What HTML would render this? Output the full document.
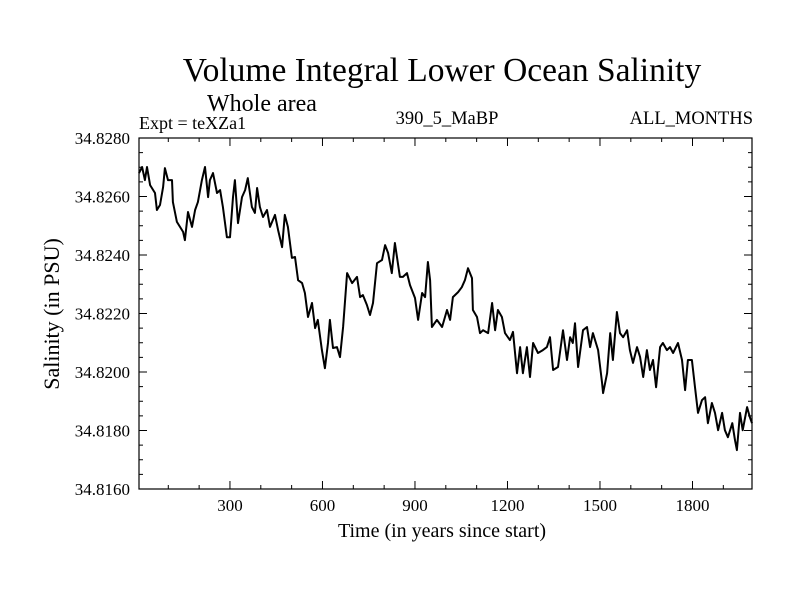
<!DOCTYPE html>
<html><head><meta charset="utf-8"><style>
html,body{margin:0;padding:0;background:#fff;}
svg text{font-family:"Liberation Serif",serif;fill:#000;}
</style></head><body>
<svg id="chart" width="800" height="600" xmlns="http://www.w3.org/2000/svg">
<rect width="800" height="600" fill="#fff"/>
<text x="442" y="81" font-size="33.5" text-anchor="middle">Volume Integral Lower Ocean Salinity</text>
<text x="207" y="111" font-size="24">Whole area</text>
<text x="139" y="129" font-size="18">Expt = teXZa1</text>
<text x="447" y="124" font-size="18.5" text-anchor="middle">390_5_MaBP</text>
<text x="753" y="124" font-size="18.5" text-anchor="end">ALL_MONTHS</text>
<text transform="translate(59,314) rotate(-90)" font-size="22" text-anchor="middle">Salinity (in PSU)</text>
<text x="442" y="537" font-size="20" text-anchor="middle">Time (in years since start)</text>
<g id="axes"></g>
<path id="series" fill="none" stroke="#000" stroke-width="2" stroke-linejoin="round"/>
<rect x="139" y="138" width="613" height="351" fill="none" stroke="#000" stroke-width="1.2"/>
</svg>
<script>
const years = [5,15,24,31,41,57,63,73,83,89,99,112,115,128,138,148,154,164,177,187,196,209,219,229,235,245,258,268,277,290,300,310,316,326,339,349,358,371,381,388,397,407,420,430,446,456,469,478,488,501,511,521,534,543,553,566,576,585,598,608,618,624,634,647,657,667,680,696,712,722,731,744,754,764,777,793,803,813,825,835,851,861,874,884,900,910,923,933,942,949,955,971,988,1004,1014,1023,1040,1052,1062,1072,1085,1088,1101,1111,1121,1137,1150,1160,1169,1182,1192,1208,1218,1231,1241,1250,1263,1273,1283,1299,1315,1328,1338,1348,1364,1380,1393,1403,1412,1419,1429,1445,1458,1468,1477,1494,1507,1510,1523,1533,1542,1555,1565,1575,1588,1597,1607,1620,1630,1640,1652,1662,1672,1682,1695,1704,1717,1727,1737,1753,1766,1776,1785,1798,1808,1818,1831,1841,1850,1863,1873,1883,1896,1905,1915,1929,1938,1944,1954,1963,1977,1986,1993];
const salinity = [34.82680,34.82701,34.82656,34.82701,34.82639,34.82612,34.82554,34.82571,34.82632,34.82697,34.82656,34.82656,34.82581,34.82513,34.82496,34.82479,34.82451,34.82547,34.82496,34.82554,34.82581,34.82656,34.82701,34.82598,34.82656,34.82680,34.82612,34.82622,34.82564,34.82461,34.82461,34.82598,34.82656,34.82509,34.82598,34.82622,34.82663,34.82564,34.82544,34.82629,34.82564,34.82530,34.82554,34.82496,34.82537,34.82485,34.82427,34.82537,34.82496,34.82390,34.82393,34.82314,34.82304,34.82270,34.82188,34.82236,34.82150,34.82178,34.82075,34.82013,34.82099,34.82178,34.82082,34.82085,34.82051,34.82154,34.82338,34.82304,34.82325,34.82256,34.82263,34.82229,34.82195,34.82236,34.82372,34.82383,34.82434,34.82407,34.82338,34.82441,34.82325,34.82325,34.82338,34.82297,34.82253,34.82178,34.82270,34.82256,34.82376,34.82314,34.82154,34.82178,34.82154,34.82212,34.82178,34.82256,34.82273,34.82290,34.82314,34.82355,34.82321,34.82212,34.82188,34.82133,34.82143,34.82133,34.82236,34.82143,34.82212,34.82188,34.82133,34.82109,34.82137,34.81996,34.82085,34.81996,34.82085,34.81983,34.82099,34.82065,34.82075,34.82085,34.82119,34.82007,34.82017,34.82143,34.82041,34.82119,34.82099,34.82167,34.82017,34.82143,34.82154,34.82085,34.82133,34.82075,34.81962,34.81928,34.81996,34.82133,34.82041,34.82205,34.82133,34.82119,34.82143,34.82075,34.82031,34.82085,34.82051,34.81983,34.82075,34.82007,34.82041,34.81948,34.82085,34.82099,34.82075,34.82085,34.82065,34.82099,34.82041,34.81938,34.82041,34.82041,34.81948,34.81860,34.81904,34.81914,34.81825,34.81894,34.81860,34.81801,34.81860,34.81801,34.81777,34.81825,34.81767,34.81733,34.81860,34.81801,34.81880,34.81846,34.81825];
const xTickLabels = [300,600,900,1200,1500,1800];
const yTickLabels = ["34.8160","34.8180","34.8200","34.8220","34.8240","34.8260","34.8280"];

const X0=139,X1=752,Y0=138,Y1=489;
const xMin=5,xMax=1993,yMin=34.816,yMax=34.828;
const xs=v=>X0+(v-xMin)/(xMax-xMin)*(X1-X0);
const ys=v=>Y1-(v-yMin)/(yMax-yMin)*(Y1-Y0);
const NS="http://www.w3.org/2000/svg";
const g=document.getElementById('axes');
function line(x1,y1,x2,y2,name){
  const l=document.createElementNS(NS,'line');
  l.setAttribute('x1',x1);l.setAttribute('y1',y1);l.setAttribute('x2',x2);l.setAttribute('y2',y2);
  l.setAttribute('stroke','#000');l.setAttribute('stroke-width','1');
  
  
  g.appendChild(l);
}
function text(x,y,s,anchor,name){
  const t=document.createElementNS(NS,'text');
  t.setAttribute('x',x);t.setAttribute('y',y);t.setAttribute('font-size','17');t.setAttribute('text-anchor',anchor);
  t.textContent=s;
  
  
  g.appendChild(t);
}
for(let v=100;v<xMax;v+=100){
  const x=xs(v), major=(v%300===0), L=major?8:4;
  line(x,Y1,x,Y1-L,'x-tick');
  line(x,Y0,x,Y0+L,'x-tick-top');
}
xTickLabels.forEach(v=>text(xs(v),511,String(v),'middle','x-tick-label'));
for(let i=0;i<=24;i++){
  const v=yMin+i*0.0005, y=ys(v), major=(i%4===0), L=major?8:4;
  line(X0,y,X0+L,y,'y-tick');
  line(X1,y,X1-L,y,'y-tick-right');
}
yTickLabels.forEach(s=>text(130,ys(parseFloat(s))+6,s,'end','y-tick-label'));
let d='';
years.forEach((yr,i)=>{d+=(i?'L':'M')+xs(yr).toFixed(1)+','+ys(salinity[i]).toFixed(1);});
document.getElementById('series').setAttribute('d',d);
</script>
</body></html>
